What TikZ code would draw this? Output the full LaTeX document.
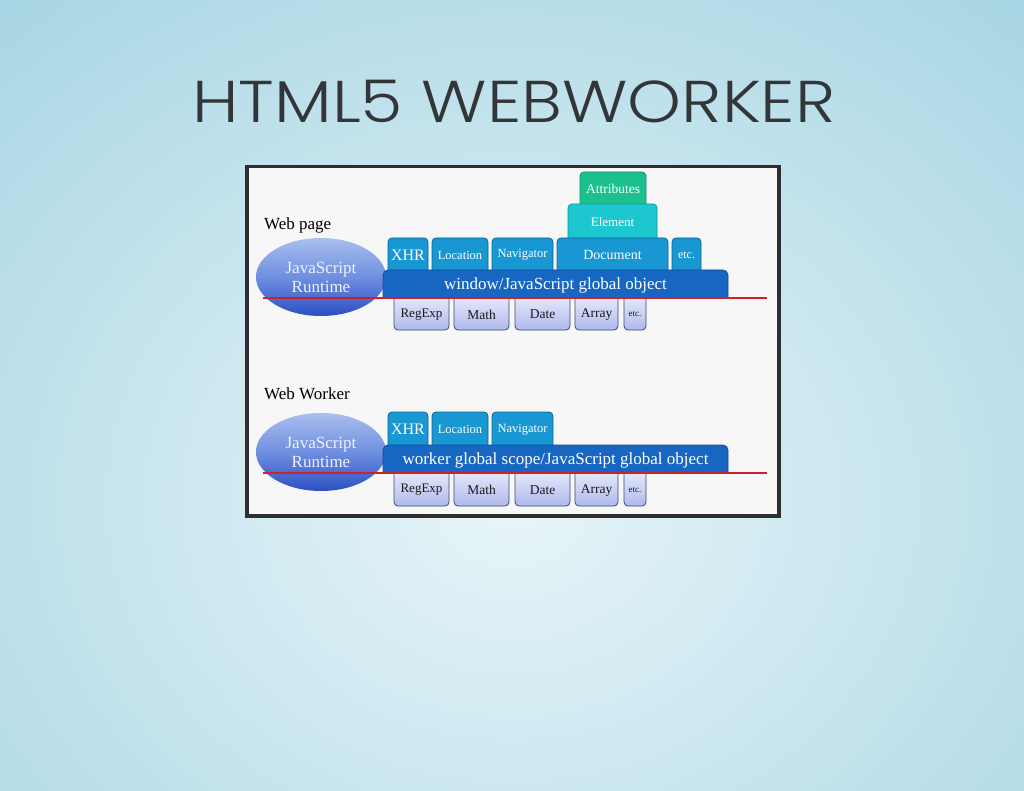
\documentclass[tikz,border=0pt]{standalone}
\usepackage{fontspec}
\setmainfont{Liberation Serif}
\newfontfamily\titlefont{Poppins Light}
\usetikzlibrary{shapes.geometric}

\definecolor{bgin}{HTML}{E8F5F9}
\definecolor{bgout}{HTML}{A9D6E4}
\definecolor{titleink}{HTML}{333638}
\definecolor{frameink}{HTML}{2E2E2E}
\definecolor{panelfill}{HTML}{F7F7F8}
\definecolor{tabblue}{HTML}{1897D3}
\definecolor{tabedge}{HTML}{0C6596}
\definecolor{barblue}{HTML}{1767C2}
\definecolor{baredge}{HTML}{0E4E9E}
\definecolor{elemcyan}{HTML}{1CC7D0}
\definecolor{elemedge}{HTML}{10959C}
\definecolor{attrgreen}{HTML}{1CC08F}
\definecolor{attredge}{HTML}{11906A}
\definecolor{libtop}{HTML}{EEF0FC}
\definecolor{libbot}{HTML}{AEB9EC}
\definecolor{libedge}{HTML}{3D4A6E}
\definecolor{rtlight}{HTML}{A9BFEE}
\definecolor{rtmid}{HTML}{6F8FE0}
\definecolor{rtdark}{HTML}{2C4FC2}
\definecolor{redline}{HTML}{D0202A}

\newcommand\fsz[1]{\fontsize{#1}{#1}\selectfont}

% tab standing on the global-object bar: #1 name, #2 x1, #3 y1, #4 x2, #5 y2, #6 look, #7 text
\newcommand\uptab[7]{%
  \path[#6] (#2,#5+6) -- (#2,#3) -- (#4,#3) -- (#4,#5+6) -- cycle;
  \node[tabtext] (#1) at ({(#2+#4)/2},{(#3+#5)/2+1}) {#7};}
% tab hanging below the bar
\newcommand\downtab[7]{%
  \path[#6] (#2,#3-6) -- (#2,#5) -- (#4,#5) -- (#4,#3-6) -- cycle;
  \node[libtext] (#1) at ({(#2+#4)/2},{(#3+#5)/2+0.5}) {#7};}

\begin{document}
\begin{tikzpicture}[x=1pt,y=-1pt,
  tabshape/.style={fill=tabblue, draw=tabedge, line width=0.8, rounded corners=4},
  elemshape/.style={fill=elemcyan, draw=elemedge, line width=0.8, rounded corners=4},
  attrshape/.style={fill=attrgreen, draw=attredge, line width=0.8, rounded corners=4},
  libshape/.style={top color=libtop, bottom color=libbot, draw=libedge, line width=0.8, rounded corners=4},
  barshape/.style={fill=barblue, draw=baredge, line width=0.8},
  tabtext/.style={inner sep=0, text=white, font=\fsz{12.5}},
  libtext/.style={inner sep=0, text=black!90, font=\fsz{13.5}},
  bartext/.style={inner sep=0, text=white, font=\fsz{17}},
  runtime/.style={ellipse, inner sep=0, minimum width=130, minimum height=78,
    top color=rtlight, bottom color=rtdark, middle color=rtmid,
    text=white!94!blue, font=\fontsize{17}{19}\selectfont, align=center},
  section/.style={anchor=base west, inner sep=0, font=\fsz{17}, text=black},
  redrule/.style={draw=redline, line width=2}]

\useasboundingbox (0,0) rectangle (1024,791);
\shade[inner color=bgin, outer color=bgout] (-250,-150) rectangle (1274,1150);

\node[anchor=base, inner sep=0, text=titleink, font=\titlefont\fsz{59}, xscale=1.16] (title) at (514,123) {HTML5 WEBWORKER};

\node[draw=frameink, line width=3.5, fill=panelfill, anchor=north west, inner sep=0,
      minimum width=532, minimum height=349] (panel) at (245,165) {};

% ---- Web page ----
\node[section] (wplabel) at (264,230) {Web page};
\node[runtime] (wprt) at (321,277) {JavaScript\\Runtime};

\uptab{wpattr}{580}{172}{646}{204}{attrshape}{\fsz{13.5}Attributes}
\uptab{wpelem}{568}{204}{657}{238}{elemshape}{\fsz{13}Element}
\uptab{wpdoc}{557}{238}{668}{270}{tabshape}{\fsz{14}Document}
\uptab{wpxhr}{388}{238}{428}{270}{tabshape}{\fsz{16}XHR}
\uptab{wploc}{432}{238}{488}{270}{tabshape}{Location}
\uptab{wpnav}{492}{238}{553}{270}{tabshape}{Navigator}
\uptab{wpetc}{672}{238}{701}{270}{tabshape}{\fsz{12}etc.}

\downtab{wpreg}{394}{298}{449}{330}{libshape}{\fsz{13}RegExp}
\downtab{wpmath}{454}{298}{509}{330}{libshape}{Math}
\downtab{wpdate}{515}{298}{570}{330}{libshape}{Date}
\downtab{wparr}{575}{298}{618}{330}{libshape}{Array}
\downtab{wpetc2}{624}{298}{646}{330}{libshape}{\fsz{9}etc.}

\path[barshape] (383,298) [rounded corners=5] -- (383,270) -- (728,270) [sharp corners] -- (728,298) -- cycle;
\node[bartext] (wpbar) at (555.5,285) {window/JavaScript global object};

\coordinate (wpruleL) at (263,298);
\coordinate (wpruleR) at (767,298);
\draw[redrule] (wpruleL) -- (wpruleR);

% ---- Web Worker ----
\node[section] (wwlabel) at (264,399) {Web Worker};
\node[runtime] (wwrt) at (321,452) {JavaScript\\Runtime};

\uptab{wwxhr}{388}{412}{428}{445}{tabshape}{\fsz{16}XHR}
\uptab{wwloc}{432}{412}{488}{445}{tabshape}{Location}
\uptab{wwnav}{492}{412}{553}{445}{tabshape}{Navigator}

\downtab{wwreg}{394}{473}{449}{506}{libshape}{\fsz{13}RegExp}
\downtab{wwmath}{454}{473}{509}{506}{libshape}{Math}
\downtab{wwdate}{515}{473}{570}{506}{libshape}{Date}
\downtab{wwarr}{575}{473}{618}{506}{libshape}{Array}
\downtab{wwetc2}{624}{473}{646}{506}{libshape}{\fsz{9}etc.}

\path[barshape] (383,473) [rounded corners=5] -- (383,445) -- (728,445) [sharp corners] -- (728,473) -- cycle;
\node[bartext] (wwbar) at (555.5,460) {worker global scope/JavaScript global object};

\coordinate (wwruleL) at (263,473);
\coordinate (wwruleR) at (767,473);
\draw[redrule] (wwruleL) -- (wwruleR);

\end{tikzpicture}
\end{document}
